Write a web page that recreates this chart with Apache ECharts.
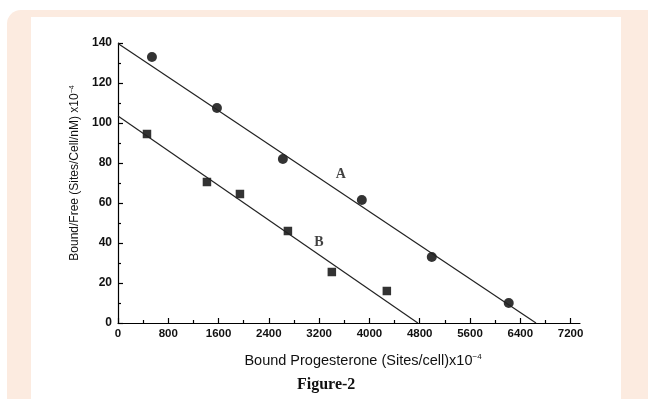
<!DOCTYPE html>
<html>
<head>
<meta charset="UTF-8">
<title>Figure-2</title>
<script src="https://cdn.jsdelivr.net/npm/echarts@6/dist/echarts.min.js"></script>
<style>
html, body { margin: 0; padding: 0; background: #fff; }
.frame { position: absolute; left: 7px; top: 10px; width: 660px; height: 420px; background: #fcebe0; border-radius: 14px; }
.panel { position: absolute; left: 31px; top: 17px; width: 590px; height: 400px; background: #fff; }
#chart { position: absolute; left: 0; top: 0; width: 648px; height: 399px; }
</style>
</head>
<body>
<div class="frame"></div>
<div class="panel"></div>
<div id="chart"></div>
<script>
// Scatchard plot, bound progesterone vs bound/free
const boundA = [540, 1574, 2623, 3879, 4992, 6216];
const ratioA = [133, 107.5, 82, 61.5, 33, 10];
const boundB = [461, 1415, 1940, 2703, 3402, 4277];
const ratioB = [94.5, 70.5, 64.5, 46, 25.5, 16];

// fitted lines, drawn between the two axis intercepts
const fitA = [[0, 139.8], [6650, 0]];
const fitB = [[0, 103.5], [4770, 0]];

// curve labels
const curveNames = ['A', 'B'];
const curveLabelPos = [[3545, 74.5], [3196, 40.5]];

const xTicks = [0, 800, 1600, 2400, 3200, 4000, 4800, 5600, 6400, 7200];

const pairs = (xs, ys) => xs.map((x, i) => [x, ys[i]]);

const tickFont = { fontFamily: 'Liberation Sans', fontWeight: 'bold', color: '#111', formatter: v => String(v) };
const lineStyle = { color: '#000', width: 1.2 };

const chart = echarts.init(document.getElementById('chart'));
chart.setOption({
  backgroundColor: 'transparent',
  animation: false,
  grid: { left: 118, right: 68, top: 43, bottom: 76 },
  xAxis: {
    type: 'value',
    min: 0,
    max: 7350,
    interval: 800,
    name: '{t|Bound Progesterone (Sites/cell)x10}{s|\u22124}',
    nameLocation: 'middle',
    nameGap: 30,
    nameTextStyle: {
      padding: [0, 0, 0, 28],
      rich: {
        t: { fontFamily: 'Liberation Sans', fontSize: 14.5, color: '#111' },
        s: { fontFamily: 'Liberation Sans', fontSize: 8, color: '#111', verticalAlign: 'top', padding: [0, 0, 7, 0] }
      }
    },
    axisLine: { lineStyle },
    axisTick: { inside: true, length: 5, lineStyle, customValues: xTicks },
    minorTick: { show: true, splitNumber: 2, length: 3, lineStyle },
    axisLabel: Object.assign({ margin: 5, fontSize: 11.5, customValues: xTicks }, tickFont),
    splitLine: { show: false }
  },
  yAxis: {
    type: 'value',
    min: 0,
    max: 140,
    interval: 20,
    name: '{t|Bound/Free (Sites/Cell/nM) x10}{s|\u22124}',
    nameLocation: 'middle',
    nameGap: 36,
    nameTextStyle: {
      padding: [0, 0, 0, 20],
      rich: {
        t: { fontFamily: 'Liberation Sans', fontSize: 12, color: '#111' },
        s: { fontFamily: 'Liberation Sans', fontSize: 7, color: '#111', verticalAlign: 'top', padding: [0, 0, 6, 0] }
      }
    },
    axisLine: { show: true, lineStyle },
    axisTick: { show: true, inside: true, length: 5, lineStyle },
    minorTick: { show: true, splitNumber: 2, length: 3, lineStyle },
    axisLabel: Object.assign({ margin: 6, fontSize: 12 }, tickFont),
    splitLine: { show: false }
  },
  graphic: [{
    type: 'text',
    left: 297,
    top: 377,
    style: { text: 'Figure-2', font: 'bold 16px "Liberation Serif"', fill: '#111' }
  }],
  series: [
    {
      type: 'line', data: fitA, symbol: 'none', silent: true,
      lineStyle: { color: '#222', width: 1.2 }
    },
    {
      type: 'line', data: fitB, symbol: 'none', silent: true,
      lineStyle: { color: '#222', width: 1.2 }
    },
    {
      type: 'scatter', data: pairs(boundA, ratioA), symbol: 'circle', symbolSize: 10,
      itemStyle: { color: '#000' }
    },
    {
      type: 'scatter', data: pairs(boundB, ratioB), symbol: 'rect', symbolSize: 8.5,
      itemStyle: { color: '#000' }
    },
    {
      type: 'scatter', symbolSize: 0, silent: true,
      data: curveLabelPos.map((p, i) => ({ value: p, name: curveNames[i] })),
      label: {
        show: true, position: 'inside', formatter: '{b}',
        fontFamily: 'Liberation Serif', fontWeight: 'bold', fontSize: 14, color: '#111'
      }
    }
  ]
});
</script>
</body>
</html>
